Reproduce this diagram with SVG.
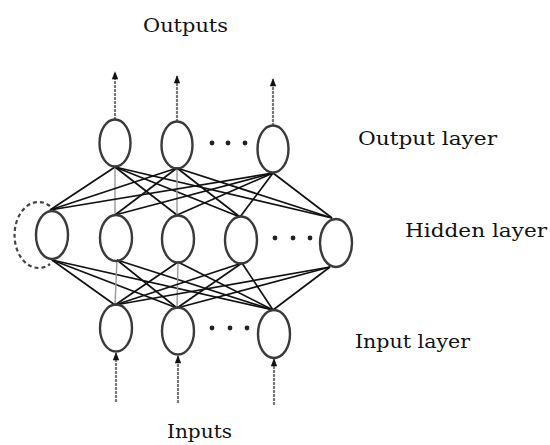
<svg xmlns="http://www.w3.org/2000/svg" width="550" height="445" viewBox="0 0 550 445">
<style>
.node{fill:none;stroke:#3a3a3a;stroke-width:2.4}
.w{stroke:#111;stroke-width:1.7;fill:none}
.v{stroke:#999;stroke-width:1.4;fill:none}
.io{stroke:#777;stroke-width:2.2;fill:none;stroke-dasharray:3,1}
.lbl{font-family:"DejaVu Serif","Liberation Serif",serif;font-size:19px;fill:#111}
.dot{fill:#222}
</style>
<defs>
<marker id="ah" viewBox="0 0 10 10" refX="9" refY="5" markerWidth="9" markerHeight="8" orient="auto" markerUnits="userSpaceOnUse">
<path d="M0,1 L10,5 L0,9 Z" fill="#111"/>
</marker>
</defs>
<rect width="550" height="445" fill="#fff"/>
<g id="connectors">
<line class="w" x1="115" y1="167" x2="50" y2="210"/>
<line class="v" x1="115" y1="167" x2="115" y2="215"/>
<line class="w" x1="115" y1="167" x2="177" y2="215"/>
<line class="w" x1="115" y1="167" x2="240" y2="217"/>
<line class="w" x1="115" y1="167" x2="332" y2="218"/>
<line class="w" x1="177" y1="168" x2="50" y2="210"/>
<line class="w" x1="177" y1="168" x2="115" y2="215"/>
<line class="v" x1="177" y1="168" x2="177" y2="215"/>
<line class="w" x1="177" y1="168" x2="240" y2="217"/>
<line class="w" x1="177" y1="168" x2="332" y2="218"/>
<line class="w" x1="273" y1="173" x2="50" y2="210"/>
<line class="w" x1="273" y1="173" x2="115" y2="215"/>
<line class="w" x1="273" y1="173" x2="177" y2="215"/>
<line class="w" x1="273" y1="173" x2="240" y2="217"/>
<line class="w" x1="273" y1="173" x2="332" y2="218"/>
<line class="w" x1="52" y1="260" x2="115" y2="305"/>
<line class="w" x1="52" y1="260" x2="177" y2="308"/>
<line class="w" x1="52" y1="260" x2="273" y2="310"/>
<line class="v" x1="117" y1="260" x2="115" y2="305"/>
<line class="w" x1="117" y1="260" x2="177" y2="308"/>
<line class="w" x1="117" y1="260" x2="273" y2="310"/>
<line class="w" x1="178" y1="262" x2="115" y2="305"/>
<line class="v" x1="178" y1="262" x2="177" y2="308"/>
<line class="w" x1="178" y1="262" x2="273" y2="310"/>
<line class="w" x1="242" y1="263" x2="115" y2="305"/>
<line class="w" x1="242" y1="263" x2="177" y2="308"/>
<line class="w" x1="242" y1="263" x2="273" y2="310"/>
<line class="w" x1="330" y1="267" x2="115" y2="305"/>
<line class="w" x1="330" y1="267" x2="177" y2="308"/>
<line class="w" x1="330" y1="267" x2="273" y2="310"/>
<line class="io" x1="115" y1="120" x2="115" y2="72" marker-end="url(#ah)"/>
<line class="io" x1="177" y1="122" x2="177" y2="76" marker-end="url(#ah)"/>
<line class="io" x1="273" y1="126" x2="273" y2="79" marker-end="url(#ah)"/>
<line class="io" x1="116" y1="402" x2="116" y2="353" marker-end="url(#ah)"/>
<line class="io" x1="178" y1="403" x2="178" y2="356" marker-end="url(#ah)"/>
<line class="io" x1="274" y1="405" x2="274" y2="359" marker-end="url(#ah)"/>
<path d="M50,206 A24,33 0 1,0 50,264" fill="none" stroke="#444" stroke-width="2.2" stroke-dasharray="4,3"/>
</g>
<g id="output-layer">
<ellipse class="node" cx="115" cy="143" rx="15.5" ry="23.5"/>
<ellipse class="node" cx="177" cy="145" rx="15.5" ry="23.5"/>
<ellipse class="node" cx="273" cy="149" rx="15.5" ry="23.5"/>
<circle class="dot" cx="212" cy="143" r="2.4"/>
<circle class="dot" cx="228" cy="143" r="2.4"/>
<circle class="dot" cx="245" cy="143" r="2.4"/>
</g>
<g id="hidden-layer">
<ellipse class="node" cx="52" cy="235" rx="16" ry="24"/>
<ellipse class="node" cx="116" cy="238" rx="16" ry="23"/>
<ellipse class="node" cx="178" cy="239" rx="16" ry="23.5"/>
<ellipse class="node" cx="241" cy="240" rx="16" ry="23.5"/>
<ellipse class="node" cx="336" cy="243" rx="16" ry="24"/>
<circle class="dot" cx="275" cy="238" r="2.4"/>
<circle class="dot" cx="293" cy="238" r="2.4"/>
<circle class="dot" cx="310" cy="238" r="2.4"/>
</g>
<g id="input-layer">
<ellipse class="node" cx="116" cy="328" rx="16" ry="23.5"/>
<ellipse class="node" cx="178" cy="331" rx="16" ry="23.5"/>
<ellipse class="node" cx="274" cy="334" rx="16" ry="24"/>
<circle class="dot" cx="212" cy="328" r="2.4"/>
<circle class="dot" cx="230" cy="328" r="2.4"/>
<circle class="dot" cx="247" cy="328" r="2.4"/>
</g>
<g id="labels">
<text class="lbl" x="143" y="32" textLength="85" lengthAdjust="spacingAndGlyphs">Outputs</text>
<text class="lbl" x="358" y="145" textLength="139" lengthAdjust="spacingAndGlyphs">Output layer</text>
<text class="lbl" x="405" y="237" textLength="142" lengthAdjust="spacingAndGlyphs">Hidden layer</text>
<text class="lbl" x="355" y="348" textLength="115" lengthAdjust="spacingAndGlyphs">Input layer</text>
<text class="lbl" x="167" y="438" textLength="65" lengthAdjust="spacingAndGlyphs">Inputs</text>
</g>
</svg>
